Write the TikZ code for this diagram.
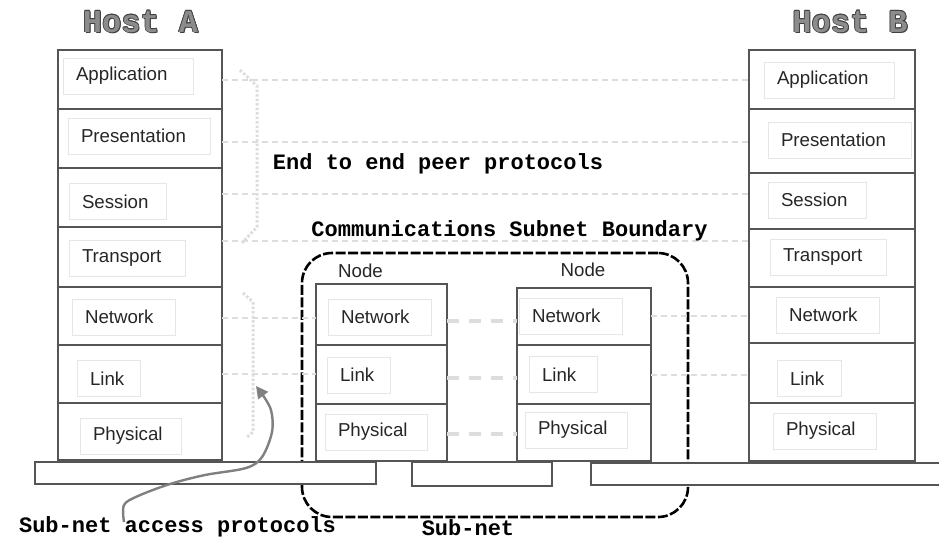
\documentclass[tikz,border=0pt]{standalone}
\usepackage{fontspec}
\setmainfont{Liberation Sans}
\newfontfamily\courierfont{Liberation Mono}
\usetikzlibrary{arrows.meta}

\definecolor{stackgray}{HTML}{555555}
\definecolor{boxgray}{HTML}{E6E6E6}
\definecolor{peergray}{HTML}{DDDDDD}
\definecolor{arrowgray}{HTML}{808080}
\definecolor{titlegray}{HTML}{8C8C8C}
\definecolor{titleedge}{HTML}{404040}

\tikzset{
  cell/.style={draw=stackgray, line width=1.1pt, inner sep=0pt, outer sep=0pt, minimum height=#1},
  layerlbl/.style={draw=boxgray, line width=1pt, inner xsep=13pt, inner ysep=0pt,
    minimum height=36pt, align=left, text width=#1, text=black!85,
    font=\fontsize{18.7}{20}\selectfont},
  nodecap/.style={anchor=base, inner sep=0pt, text=black!85, font=\fontsize{18.7}{20}\selectfont},
  peer/.style={draw=peergray, line width=1.5pt, dash pattern=on 6pt off 4pt},
  hop/.style={draw=peergray, line width=4pt, dash pattern=on 12pt off 10pt},
  bracket/.style={draw=peergray, line width=3pt, dash pattern=on 2.5pt off 2pt},
  boundary/.style={draw=black, line width=2.6pt, dash pattern=on 10pt off 2.5pt,
    rounded corners=30pt, inner sep=0pt, outer sep=0pt},
  bar/.style={draw=stackgray, fill=white, line width=1.1pt, inner sep=0pt, outer sep=0pt},
  monolbl/.style={anchor=base, inner sep=0pt, text=black,
    font=\courierfont\bfseries\fontsize{22}{24}\selectfont},
  hosttitle/.style={anchor=base, inner sep=0pt,
    font=\courierfont\bfseries\fontsize{32}{34}\selectfont},
  accarrow/.style={draw=arrowgray, line width=2.4pt, line join=round,
    -{Triangle[length=12pt,width=12pt]}},
}

\begin{document}
\begin{tikzpicture}[x=1pt,y=-1pt]
\useasboundingbox (0,0) rectangle (939,539);

% ---- Host A stack ----
\begin{scope}[every node/.append style={minimum width=164pt}]
\node[cell=59pt] (aApp)   at (140,79.5)  {};
\node[cell=59pt] (aPres)  at (140,138.5) {};
\node[cell=59pt] (aSess)  at (140,197.5) {};
\node[cell=60pt] (aTrans) at (140,257)   {};
\node[cell=58pt] (aNet)   at (140,316)   {};
\node[cell=58pt] (aLink)  at (140,374)   {};
\node[cell=57pt] (aPhys)  at (140,431.5) {};
\end{scope}

% ---- Host B stack ----
\begin{scope}[every node/.append style={minimum width=166pt}]
\node[cell=59pt] (bApp)   at (832,79.5) {};
\node[cell=64pt] (bPres)  at (832,141)  {};
\node[cell=56pt] (bSess)  at (832,201)  {};
\node[cell=58pt] (bTrans) at (832,258)  {};
\node[cell=56pt] (bNet)   at (832,315)  {};
\node[cell=60pt] (bLink)  at (832,373)  {};
\node[cell=58pt] (bPhys)  at (832,432)  {};
\end{scope}

% ---- peer protocol lines between the hosts ----
\draw[peer] (aApp.east |- 0,80)   -- (bApp.west |- 0,80);
\draw[peer] (aPres.east |- 0,142) -- (bPres.west |- 0,142);
\draw[peer] (aSess.east |- 0,194) -- (bSess.west |- 0,194);
\draw[peer] (aTrans.east |- 0,241) -- (bTrans.west |- 0,241);

% ---- brackets grouping the protocols ----
\draw[bracket] (240,70) -- (257,86) -- (257,227) -- (242,243);
\draw[bracket] (243,293) -- (253,302) -- (253,432) -- (247,437);

% ---- communications subnet boundary ----
\node[boundary, minimum width=386pt, minimum height=264pt] (subnet) at (495,385) {};

% ---- transmission media ----
\node[bar, minimum width=341pt, minimum height=22pt] (mediaL) at (205.5,473) {};
\node[bar, minimum width=140pt, minimum height=24pt] (mediaM) at (482,474) {};
\node[bar, minimum width=354pt, minimum height=22pt] (mediaR) at (768,474) {};

% ---- subnet nodes ----
\begin{scope}[every node/.append style={minimum width=131pt}]
\node[cell=61pt] (n1Net)  at (381.5,314.5) {};
\node[cell=59pt] (n1Link) at (381.5,374.5) {};
\node[cell=57pt] (n1Phys) at (381.5,432.5) {};
\end{scope}
\begin{scope}[every node/.append style={minimum width=134pt}]
\node[cell=57pt] (n2Net)  at (584,316.5) {};
\node[cell=59pt] (n2Link) at (584,374.5) {};
\node[cell=57pt] (n2Phys) at (584,432.5) {};
\end{scope}

% ---- host to node peer lines ----
\draw[peer] (aNet.east |- 0,318)  -- (n1Net.west |- 0,318);
\draw[peer] (n2Net.east |- 0,316) -- (bNet.west |- 0,316);
\draw[peer] (aLink.east |- 0,374)  -- (n1Link.west |- 0,374);
\draw[peer] (n2Link.east |- 0,375) -- (bLink.west |- 0,375);

% ---- node to node hops ----
\draw[hop] (n1Net.east |- 0,321)  -- (n2Net.west |- 0,321);
\draw[hop] (n1Link.east |- 0,378) -- (n2Link.west |- 0,378);
\draw[hop] (n1Phys.east |- 0,434) -- (n2Phys.west |- 0,434);

% ---- layer labels ----
\node[layerlbl=104pt] (aAppL)   at (128,76)     {Application};
\node[layerlbl=116pt] (aPresL)  at (139,136)    {Presentation};
\node[layerlbl=71pt]  (aSessL)  at (117.5,201.5){Session};
\node[layerlbl=90pt]  (aTransL) at (127,258)    {Transport};
\node[layerlbl=77pt]  (aNetL)   at (123.5,317)  {Network};
\node[layerlbl=37pt]  (aLinkL)  at (108.5,378.5){Link};
\node[layerlbl=75pt]  (aPhysL)  at (130.5,436)  {Physical};

\node[layerlbl=104pt] (bAppL)   at (829,80)     {Application};
\node[layerlbl=117pt] (bPresL)  at (839.5,140)  {Presentation};
\node[layerlbl=72pt]  (bSessL)  at (817,200)    {Session};
\node[layerlbl=90pt]  (bTransL) at (828,257)    {Transport};
\node[layerlbl=77pt]  (bNetL)   at (827.5,315)  {Network};
\node[layerlbl=38pt]  (bLinkL)  at (809,378.5)  {Link};
\node[layerlbl=77pt]  (bPhysL)  at (824.5,431)  {Physical};

\node[layerlbl=77pt]  (n1NetL)  at (379.5,317)  {Network};
\node[layerlbl=37pt]  (n1LinkL) at (358.5,375)  {Link};
\node[layerlbl=76pt]  (n1PhysL) at (376,432)    {Physical};
\node[layerlbl=77pt]  (n2NetL)  at (570.5,316)  {Network};
\node[layerlbl=42pt]  (n2LinkL) at (563,374.5)  {Link};
\node[layerlbl=76pt]  (n2PhysL) at (576,430)    {Physical};

\node[nodecap] (n1Cap) at (360.5,277) {Node};
\node[nodecap] (n2Cap) at (583,276)   {Node};

% ---- host titles: dark outline copies under a grey face ----
\foreach \dx/\dy [count=\k] in {-0.7/0,0.7/0,0/-0.7,0/0.7,1/1,0.7/0.7,-0.5/-0.5,0.5/-0.5,-0.5/0.5}{
  \node[hosttitle, text=titleedge] (hostAedge\k) at (140.5+\dx,32+\dy) {Host A};
  \node[hosttitle, text=titleedge] (hostBedge\k) at (850+\dx,32+\dy) {Host B};
}
\node[hosttitle, text=titlegray] (hostA) at (140.5,32) {Host A};
\node[hosttitle, text=titlegray] (hostB) at (850,32) {Host B};

% ---- captions ----
\node[monolbl] (e2e)    at (438,169)   {End to end peer protocols};
\node[monolbl] (csb)    at (509.5,236) {Communications Subnet Boundary};
\node[monolbl] (access) at (177.5,532) {Sub-net access protocols};
\node[monolbl] (subcap) at (468,535)   {Sub-net};

% ---- pointer from the access caption to the lower bracket ----
\coordinate (accTail) at (124,522);
\coordinate (accTip)  at (256,386);
\draw[accarrow] plot[smooth, tension=0.55] coordinates {(accTail) (124,505) (138,496)
  (170,484) (205,475) (246,468) (262,457) (272,432) (271,410) (262,394)} -- (accTip);
\end{tikzpicture}
\end{document}
